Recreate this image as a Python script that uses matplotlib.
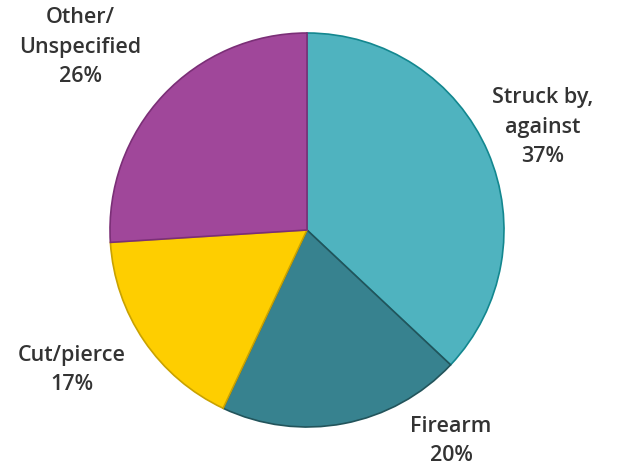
import matplotlib.pyplot as plt

labels = ['Struck by,\nagainst', 'Firearm', 'Cut/pierce', 'Other/\nUnspecified']
values = [37, 20, 17, 26]
colors = ['#4fb3bf', '#37828f', '#fece00', '#a0479a']
edges = ['#13878f', '#22545b', '#c9a200', '#7b2f77']

# label positions in pixels (x, y from top)
label_pos = [(543, 127), (451, 441), (72, 370), (80, 47)]

W, H = 626, 468
fig = plt.figure(figsize=(W / 100, H / 100), dpi=100)
ax = fig.add_axes([0, 0, 1, 1])
ax.set_xlim(0, W)
ax.set_ylim(0, H)
ax.set_aspect('equal')
ax.axis('off')

wedges, _ = ax.pie(values, colors=colors, startangle=90, counterclock=False,
                   center=(307, H - 230), radius=197,
                   wedgeprops=dict(linewidth=1.2))
for w, ec in zip(wedges, edges):
    w.set_edgecolor(ec)

for lab, v, (x, y) in zip(labels, values, label_pos):
    ax.text(x, H - y, f'{lab}\n{v}%', ha='center', va='center',
            fontsize=15.5, color='#333333', fontweight='semibold',
            family='Open Sans', linespacing=1.52)

ax.set_xlim(0, W)
ax.set_ylim(0, H)
fig.savefig('out.png', dpi=100)
